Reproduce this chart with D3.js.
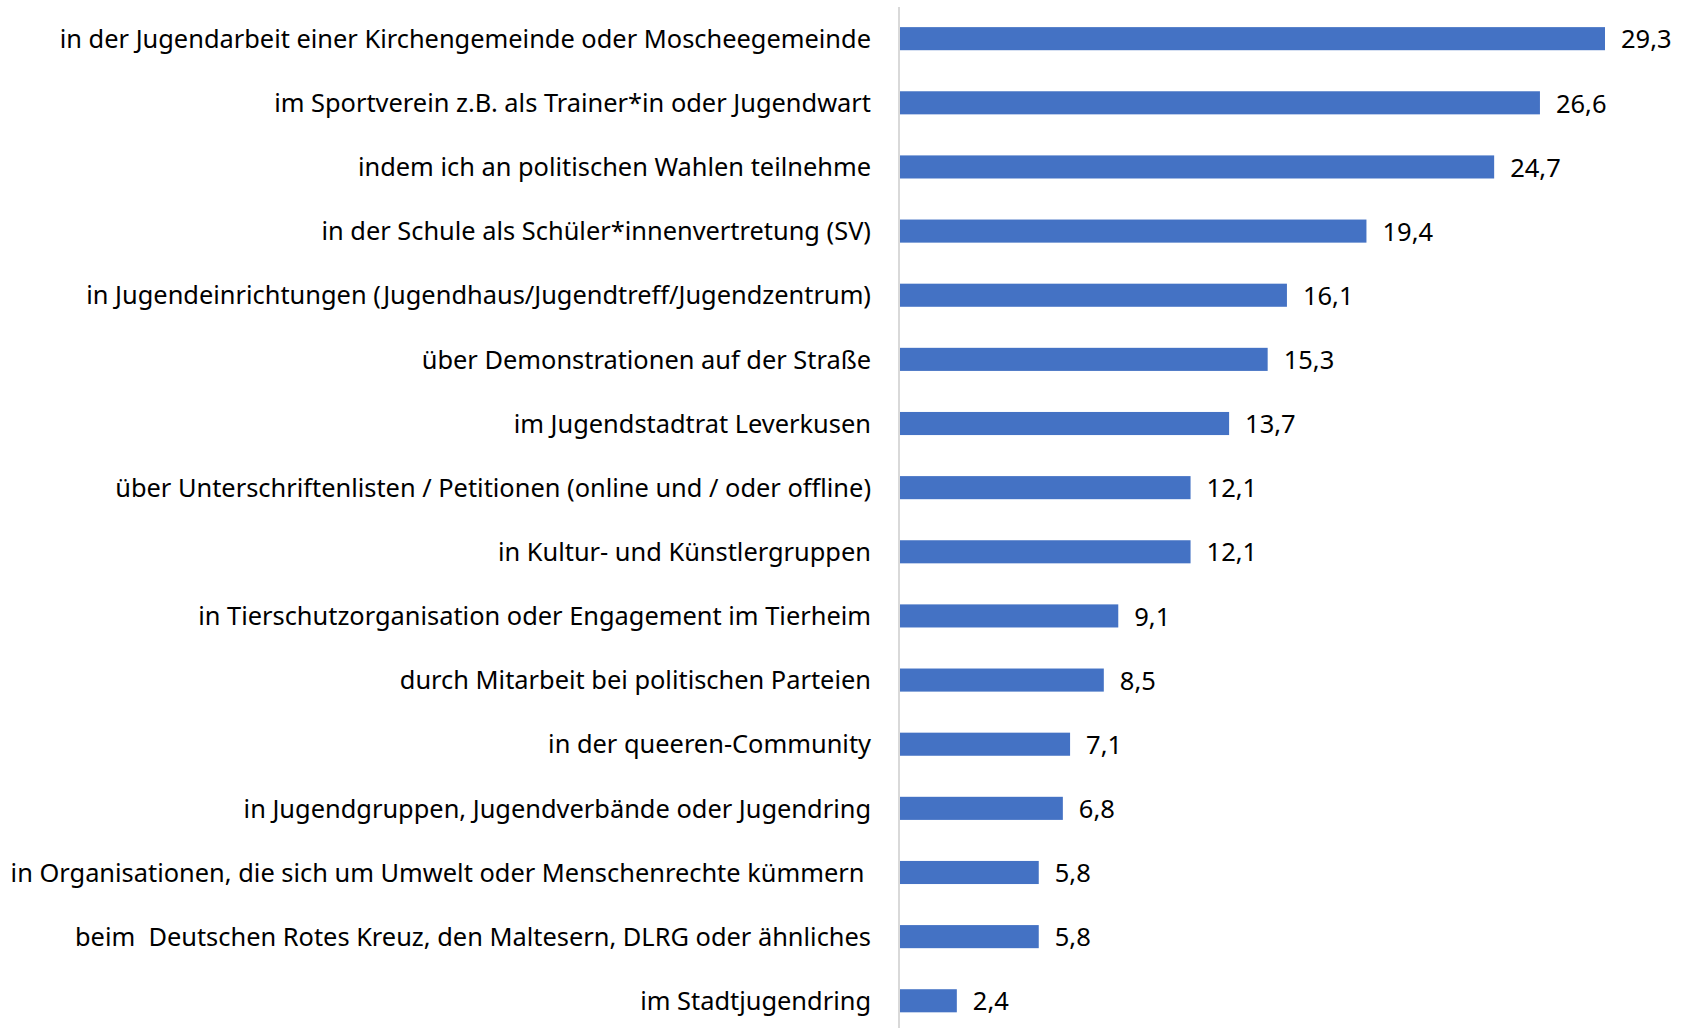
<!DOCTYPE html>
<html>
<head>
<meta charset="utf-8">
<script src="https://cdn.jsdelivr.net/npm/d3@7"></script>
<style>
  html, body { margin: 0; padding: 0; background: #fff; }
  svg { display: block; }
  text { font-family: "Noto Sans", "Open Sans", sans-serif; fill: #000; }
</style>
</head>
<body>
<div id="chart"></div>
<script>
// Kategorien (von oben nach unten)
const categories = [
  "in der Jugendarbeit einer Kirchengemeinde oder Moscheegemeinde",
  "im Sportverein z.B. als Trainer*in oder Jugendwart",
  "indem ich an politischen Wahlen teilnehme",
  "in der Schule als Schüler*innenvertretung (SV)",
  "in Jugendeinrichtungen (Jugendhaus/Jugendtreff/Jugendzentrum)",
  "über Demonstrationen auf der Straße",
  "im Jugendstadtrat Leverkusen",
  "über Unterschriftenlisten / Petitionen (online und / oder offline)",
  "in Kultur- und Künstlergruppen",
  "in Tierschutzorganisation oder Engagement im Tierheim",
  "durch Mitarbeit bei politischen Parteien",
  "in der queeren-Community",
  "in Jugendgruppen, Jugendverbände oder Jugendring",
  "in Organisationen, die sich um Umwelt oder Menschenrechte kümmern ",
  "beim  Deutschen Rotes Kreuz, den Maltesern, DLRG oder ähnliches",
  "im Stadtjugendring"
];

// Werte in Prozent
const values = [29.3, 26.6, 24.7, 19.4, 16.1, 15.3, 13.7, 12.1, 12.1, 9.1, 8.5, 7.1, 6.8, 5.8, 5.8, 2.4];

const W = 1686, H = 1028;
const axisX = 899;

const data = categories.map((c, i) => ({ cat: c, value: values[i] }));

const svg = d3.select("#chart").append("svg")
  .attr("width", W)
  .attr("height", H);

// Skalen
const x = d3.scaleLinear().domain([0, 29.3]).range([axisX, 1605]);
const y = d3.scaleBand()
  .domain(categories)
  .range([6.6, 6.6 + 16 * 64.14])
  .paddingInner(0.64)
  .paddingOuter(0.32);

// Balken
svg.append("g").selectAll("rect")
  .data(data).enter().append("rect")
  .attr("x", x(0))
  .attr("y", d => y(d.cat))
  .attr("width", d => x(d.value) - x(0))
  .attr("height", y.bandwidth())
  .attr("fill", "#4472C4");

// Werte-Beschriftung
svg.append("g").selectAll("text")
  .data(data).enter().append("text")
  .attr("x", d => x(d.value) + 16)
  .attr("y", d => y(d.cat) + y.bandwidth() / 2)
  .attr("dy", "0.38em")
  .style("font-size", "25.5px")
  .text(d => d3.format(".1f")(d.value).replace(".", ","));

// Kategorie-Achse
const yAxis = d3.axisLeft(y).tickSize(0).tickPadding(28);
const ga = svg.append("g")
  .attr("transform", `translate(${axisX},0)`)
  .call(yAxis);
ga.select(".domain").remove();
ga.selectAll("text")
  .style("font-size", "25.4px")
  .style("white-space", "pre")
  .attr("dy", "0.36em")
  .attr("fill", "#000");

// senkrechte Achsenlinie
svg.append("line")
  .attr("x1", axisX).attr("x2", axisX)
  .attr("y1", 7).attr("y2", H)
  .attr("stroke", "#d9d9d9")
  .attr("stroke-width", 2);
</script>
</body>
</html>
